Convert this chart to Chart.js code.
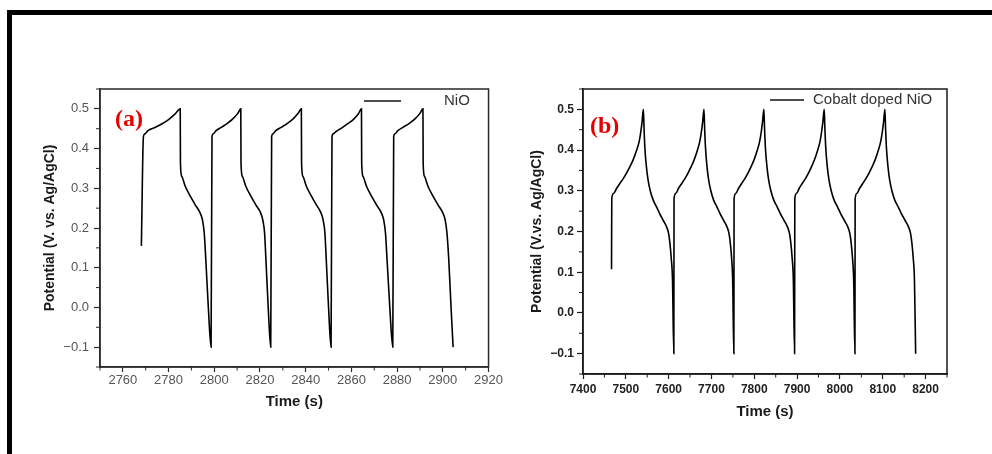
<!DOCTYPE html>
<html lang="en">
<head>
<meta charset="UTF-8">
<title>Galvanostatic charge-discharge: NiO and Cobalt doped NiO</title>
<style>
  body { margin: 0; background: #fff; }
  #page { position: relative; width: 992px; height: 454px; background: #fff; overflow: hidden; }
  #frameTop { position: absolute; left: 7px; top: 10px; width: 985px; height: 5px; background: #000; }
  #frameLeft { position: absolute; left: 7px; top: 10px; width: 5px; height: 444px; background: #000; }
  #wrapA { position: absolute; left: 14px; top: 20px; width: 490px; height: 420px; }
  #wrapB { position: absolute; left: 505px; top: 20px; width: 480px; height: 420px; }
</style>
<script src="https://cdn.jsdelivr.net/npm/chart.js"></script>
</head>
<body>
<div id="page">
  <div id="frameTop"></div>
  <div id="frameLeft"></div>
  <div id="wrapA"><canvas id="chartA" width="490" height="420"></canvas></div>
  <div id="wrapB"><canvas id="chartB" width="480" height="420"></canvas></div>
</div>

<script>
// ---- panel (a): NiO ----
const labelA = 'NiO';
const timeA = [
  2768.1, 2769.0, 2769.6, 2771.0, 2774.0, 2777.0, 2780.0, 2783.0, 2785.1,
  2785.2, 2785.8, 2787.3, 2789.5, 2791.6, 2793.8, 2794.8, 2795.6, 2796.3, 2797.4, 2798.6,
  2799.0, 2799.5, 2800.8, 2803.2, 2805.6, 2808.0, 2810.2, 2811.6,
  2811.7, 2812.3, 2813.8, 2816.0, 2818.1, 2820.3, 2821.2, 2822.0, 2822.6, 2823.6, 2824.7,
  2825.1, 2825.6, 2826.9, 2829.4, 2831.9, 2834.4, 2836.6, 2838.1,
  2838.2, 2838.8, 2840.3, 2842.5, 2844.6, 2846.7, 2847.6, 2848.4, 2849.0, 2850.0, 2851.1,
  2851.5, 2852.0, 2853.3, 2855.8, 2858.3, 2860.8, 2863.0, 2864.4,
  2864.5, 2865.1, 2866.6, 2868.8, 2870.9, 2873.1, 2874.1, 2874.9, 2875.6, 2876.8, 2878.1,
  2878.5, 2879.0, 2880.3, 2882.7, 2885.2, 2887.7, 2889.9, 2891.3,
  2891.4, 2892.0, 2893.5, 2895.7, 2897.8, 2900.0, 2901.0, 2901.8, 2902.6, 2903.6, 2904.5
];
const potentialA = [
  0.155, 0.430, 0.437, 0.445, 0.453, 0.462, 0.473, 0.488, 0.500,
  0.362, 0.330, 0.305, 0.280, 0.259, 0.238, 0.221, 0.188, 0.120, 0.000, -0.100,
  0.430, 0.437, 0.445, 0.454, 0.463, 0.474, 0.488, 0.500,
  0.362, 0.330, 0.305, 0.280, 0.259, 0.238, 0.221, 0.188, 0.120, 0.000, -0.100,
  0.430, 0.437, 0.445, 0.454, 0.463, 0.474, 0.488, 0.500,
  0.362, 0.330, 0.305, 0.280, 0.259, 0.238, 0.221, 0.188, 0.120, 0.000, -0.100,
  0.429, 0.437, 0.443, 0.452, 0.462, 0.473, 0.487, 0.500,
  0.362, 0.330, 0.305, 0.280, 0.259, 0.238, 0.221, 0.188, 0.120, 0.000, -0.100,
  0.430, 0.437, 0.445, 0.454, 0.463, 0.474, 0.488, 0.500,
  0.362, 0.330, 0.305, 0.280, 0.259, 0.238, 0.221, 0.188, 0.120, 0.000, -0.100
];
const xTicksA = [2760, 2780, 2800, 2820, 2840, 2860, 2880, 2900, 2920];
const yTicksA = [-0.1, 0.0, 0.1, 0.2, 0.3, 0.4, 0.5];
const yTickLabelsA = ['\u22120.1', '0.0', '0.1', '0.2', '0.3', '0.4', '0.5'];

// ---- panel (b): Cobalt doped NiO ----
const labelB = 'Cobalt doped NiO';
const timeB = [
  7466.6, 7467.2, 7472, 7478, 7486, 7494, 7502, 7509, 7517, 7525, 7531, 7535, 7538, 7541,
  7542.5, 7544.4, 7548, 7552, 7557, 7564, 7572, 7579, 7587, 7595, 7600, 7603, 7606, 7609, 7612.1,
  7612.6, 7617, 7622.5, 7630.5, 7638, 7645.5, 7652, 7659.5, 7667, 7672.5, 7676.5, 7679.5, 7682.5,
  7684, 7686, 7689.5, 7693.5, 7698.5, 7705, 7713, 7720, 7728, 7736, 7741, 7744, 7747, 7749.5, 7752.3,
  7752.8, 7757.2, 7762.6, 7770.5, 7778, 7785.5, 7792, 7799.4, 7806.8, 7812.3, 7816.3, 7819.3, 7822.4,
  7823.9, 7825.9, 7829.5, 7833.6, 7838.7, 7845.5, 7853.6, 7860.8, 7869, 7877.2, 7882.3, 7885.4, 7888.4, 7891.2, 7894.1,
  7894.6, 7899, 7904.3, 7912, 7919.5, 7926.8, 7933.2, 7940.5, 7947.8, 7953.3, 7957.2, 7960.2, 7963.3,
  7964.8, 7966.8, 7970.4, 7974.5, 7979.6, 7986.4, 7994.5, 8001.7, 8009.9, 8018.1, 8023.2, 8026.3, 8029.3, 8032.1, 8035,
  8035.5, 8039.9, 8045.3, 8053.2, 8060.7, 8068.2, 8074.7, 8082.1, 8089.5, 8095, 8099, 8102, 8105,
  8106.5, 8108.5, 8112.1, 8116.2, 8121.3, 8128.1, 8136.3, 8143.5, 8151.7, 8159.9, 8165, 8168.1, 8171.1, 8174, 8176.8
];
const potentialB = [
  0.107, 0.281, 0.294, 0.305, 0.318, 0.330, 0.344, 0.358, 0.376, 0.399, 0.420, 0.445, 0.470, 0.500,
  0.455, 0.407, 0.360, 0.326, 0.300, 0.277, 0.260, 0.244, 0.228, 0.212, 0.195, 0.171, 0.135, 0.081, -0.100,
  0.281, 0.294, 0.305, 0.318, 0.330, 0.344, 0.358, 0.376, 0.399, 0.420, 0.445, 0.470, 0.500,
  0.455, 0.407, 0.360, 0.326, 0.300, 0.277, 0.260, 0.244, 0.228, 0.212, 0.195, 0.171, 0.135, 0.081, -0.100,
  0.281, 0.294, 0.305, 0.318, 0.330, 0.344, 0.358, 0.376, 0.399, 0.420, 0.445, 0.470, 0.500,
  0.455, 0.407, 0.360, 0.326, 0.300, 0.277, 0.260, 0.244, 0.228, 0.212, 0.195, 0.171, 0.135, 0.081, -0.100,
  0.281, 0.294, 0.305, 0.318, 0.330, 0.344, 0.358, 0.376, 0.399, 0.420, 0.445, 0.470, 0.500,
  0.455, 0.407, 0.360, 0.326, 0.300, 0.277, 0.260, 0.244, 0.228, 0.212, 0.195, 0.171, 0.135, 0.081, -0.100,
  0.281, 0.294, 0.305, 0.318, 0.330, 0.344, 0.358, 0.376, 0.399, 0.420, 0.445, 0.470, 0.500,
  0.455, 0.407, 0.360, 0.326, 0.300, 0.277, 0.260, 0.244, 0.228, 0.212, 0.195, 0.171, 0.135, 0.081, -0.100
];
const xTicksB = [7400, 7500, 7600, 7700, 7800, 7900, 8000, 8100, 8200];
const yTicksB = [-0.1, 0.0, 0.1, 0.2, 0.3, 0.4, 0.5];
const yTickLabelsB = ['\u22120.1', '0.0', '0.1', '0.2', '0.3', '0.4', '0.5'];

const SANS = "'Liberation Sans', Arial, sans-serif";
const SERIF = "'Liberation Serif', 'Times New Roman', serif";

// box around the plot, minor ticks, panel letter and a line legend
const panelDecor = {
  id: 'panelDecor',
  afterDraw(chart, args, o) {
    const { ctx, chartArea: a, scales } = chart;
    ctx.save();
    ctx.strokeStyle = o.color;
    ctx.lineWidth = 1.5;
    ctx.strokeRect(a.left, a.top, a.right - a.left, a.bottom - a.top);

    // minor ticks half way between the labelled ones
    ctx.lineWidth = 1;
    const minors = (scale, majors) => {
      const step = majors[1] - majors[0];
      const out = [majors[0] - step / 2];
      majors.forEach(v => out.push(v + step / 2));
      return out.filter(v => v >= scale.min - 1e-9 && v <= scale.max + 1e-9);
    };
    minors(scales.x, o.xTicks).forEach(v => {
      const px = scales.x.getPixelForValue(v);
      ctx.beginPath(); ctx.moveTo(px, a.bottom); ctx.lineTo(px, a.bottom + 3.5); ctx.stroke();
    });
    minors(scales.y, o.yTicks).forEach(v => {
      const py = scales.y.getPixelForValue(v);
      ctx.beginPath(); ctx.moveTo(a.left, py); ctx.lineTo(a.left - 4, py); ctx.stroke();
    });

    // panel letter
    ctx.fillStyle = '#e60000';
    ctx.font = 'bold 24px ' + SERIF;
    ctx.textAlign = 'left';
    ctx.textBaseline = 'middle';
    ctx.fillText(o.letter, a.left + o.letterAt[0], a.top + o.letterAt[1]);

    // legend: short black line followed by the series name
    const lg = o.legendAt;
    ctx.strokeStyle = '#111';
    ctx.lineWidth = 1.6;
    ctx.beginPath();
    ctx.moveTo(a.left + lg[0], a.top + lg[2]);
    ctx.lineTo(a.left + lg[1], a.top + lg[2]);
    ctx.stroke();
    ctx.fillStyle = '#333';
    ctx.font = '15px ' + SANS;
    ctx.fillText(chart.data.datasets[0].label, a.left + lg[3], a.top + lg[2]);
    ctx.restore();
  }
};

function makeChart(id, p) {
  const points = p.time.map((t, i) => ({ x: t, y: p.potential[i] }));
  return new Chart(document.getElementById(id), {
    type: 'line',
    data: {
      datasets: [{
        label: p.label,
        data: points,
        borderColor: '#000',
        borderWidth: 1.6,
        pointRadius: 0,
        fill: false,
        cubicInterpolationMode: 'monotone'
      }]
    },
    options: {
      responsive: false,
      animation: false,
      events: [],
      layout: { padding: p.padding },
      plugins: {
        legend: { display: false },
        tooltip: { enabled: false },
        panelDecor: {
          color: p.axisColor, xTicks: p.xTicks, yTicks: p.yTicks,
          letter: p.letter, letterAt: p.letterAt, legendAt: p.legendAt
        }
      },
      scales: {
        x: {
          type: 'linear',
          min: p.xMin, max: p.xMax,
          afterBuildTicks: s => { s.ticks = p.xTicks.map(v => ({ value: v })); },
          afterFit: s => { s.height = p.xAxisHeight; },
          border: { color: p.axisColor, width: 1.5 },
          grid: { drawOnChartArea: false, drawTicks: true, tickLength: 5, tickColor: p.axisColor, tickWidth: 1.2 },
          ticks: {
            color: p.tickColor, font: p.tickFont, padding: p.xTickPad,
            maxRotation: 0, autoSkip: false, callback: v => String(v)
          },
          title: {
            display: true, text: 'Time (s)', color: '#1a1a1a',
            font: { family: SANS, size: 15, weight: 'bold' },
            padding: { top: 0, bottom: p.xTitlePad }
          }
        },
        y: {
          type: 'linear',
          min: -0.15, max: 0.55,
          afterBuildTicks: s => { s.ticks = p.yTicks.map(v => ({ value: v })); },
          afterFit: s => { s.width = p.yAxisWidth; },
          border: { color: p.axisColor, width: 1.5 },
          grid: { drawOnChartArea: false, drawTicks: true, tickLength: 6, tickColor: p.axisColor, tickWidth: 1.2 },
          ticks: {
            color: p.tickColor, font: p.tickFont, padding: p.yTickPad,
            autoSkip: false, callback: v => p.yLabels[p.yTicks.indexOf(v)]
          },
          title: {
            display: true, text: p.yTitle, color: '#1a1a1a',
            font: { family: SANS, size: 14, weight: 'bold' },
            padding: { top: p.yTitlePad, bottom: 0 }
          }
        }
      }
    },
    plugins: [panelDecor]
  });
}

makeChart('chartA', {
  label: labelA, time: timeA, potential: potentialA,
  xTicks: xTicksA, yTicks: yTicksA, yLabels: yTickLabelsA,
  xMin: 2750, xMax: 2920,
  yTitle: 'Potential (V. vs. Ag/AgCl)',
  padding: { top: 69, right: 13, left: 0, bottom: 0 },
  xAxisHeight: 73, yAxisWidth: 86,
  axisColor: '#2a2a2a', tickColor: '#555',
  tickFont: { family: SANS, size: 13 },
  xTickPad: 1, yTickPad: 5, xTitlePad: 29, yTitlePad: 28,
  letter: '(a)', letterAt: [15, 31], legendAt: [264, 301, 12, 344]
});

makeChart('chartB', {
  label: labelB, time: timeB, potential: potentialB,
  xTicks: xTicksB, yTicks: yTicksB, yLabels: yTickLabelsB,
  xMin: 7400, xMax: 8250,
  yTitle: 'Potential (V.vs. Ag/AgCl)',
  padding: { top: 69, right: 38, left: 0, bottom: 0 },
  xAxisHeight: 66, yAxisWidth: 78,
  axisColor: '#1a1a1a', tickColor: '#222',
  tickFont: { family: SANS, size: 12, weight: 'bold' },
  xTickPad: 3, yTickPad: 3, xTitlePad: 19, yTitlePad: 24,
  letter: '(b)', letterAt: [7, 38], legendAt: [187, 221, 11, 230]
});
</script>
</body>
</html>
